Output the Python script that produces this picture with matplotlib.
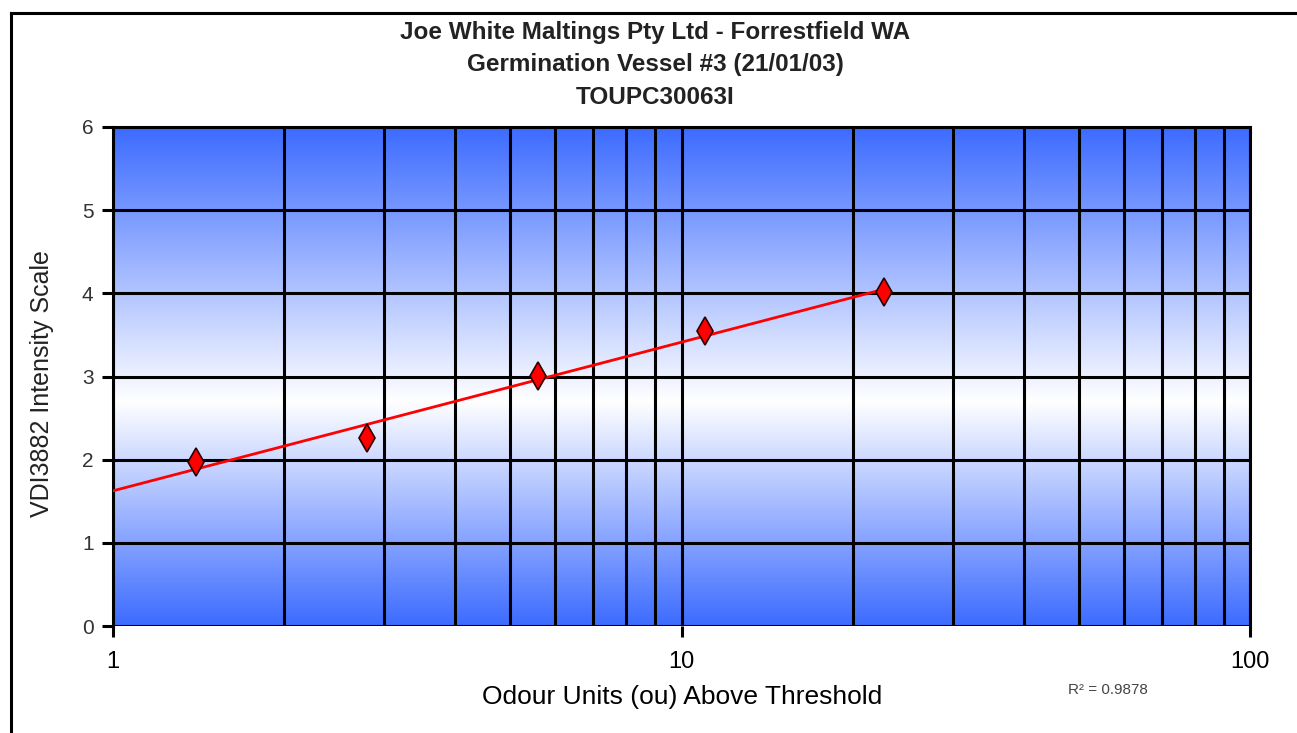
import matplotlib
matplotlib.use("Agg")
import matplotlib.pyplot as plt
import numpy as np
from matplotlib.lines import Line2D
from matplotlib.ticker import LogLocator, NullFormatter

# odour panel results: dilution level vs. perceived intensity
odour_units = [1.4, 2.8, 5.6, 11.0, 22.7]
intensity = [1.97, 2.26, 3.01, 3.55, 4.02]
r_squared = 0.9878

x_ticks = [1, 10, 100]
y_ticks = [0, 1, 2, 3, 4, 5, 6]
title_lines = ["Joe White Maltings Pty Ltd - Forrestfield WA",
               "Germination Vessel #3 (21/01/03)",
               "TOUPC30063I"]

plt.rcParams['font.family'] = ['Liberation Sans', 'DejaVu Sans']

W, H = 1297, 733
fig = plt.figure(figsize=(W / 100, H / 100), dpi=100)
pos = [113 / W, 107 / H, 1137 / W, 499 / H]

# blue-white-blue background
bg = fig.add_axes(pos, zorder=0)
t = np.linspace(0, 1, 500)[:, None]
center = 0.45
f = np.where(t < center, (center - t) / center, (t - center) / (1 - center))
blue = np.array([60, 107, 255]) / 255
img = 1 - f[..., None] * (1 - blue)
bg.imshow(img, extent=[0, 1, 0, 1], aspect='auto', origin='lower')
bg.axis('off')

ax = fig.add_axes(pos, zorder=1)
ax.set_facecolor('none')
ax.set_xscale('log')
ax.set_xlim(1, 100)
ax.set_ylim(0, 6)

ax.set_xticks(x_ticks, labels=[str(v) for v in x_ticks])
ax.xaxis.set_minor_locator(LogLocator(subs=range(2, 10)))
ax.xaxis.set_minor_formatter(NullFormatter())
ax.set_yticks(y_ticks)
ax.grid(which='both', color='black', lw=2.2)
ax.tick_params(which='major', length=8, width=2.2, direction='out')
ax.tick_params(which='minor', length=0)
ax.tick_params(axis='x', labelsize=17, pad=10)
ax.tick_params(axis='y', labelsize=15, pad=6, labelcolor='#333333')
for side in ['left', 'top', 'right']:
    ax.spines[side].set_linewidth(2.2)
ax.spines['bottom'].set_visible(False)

# logarithmic trendline
lx = np.log10(odour_units)
coef = np.polyfit(lx, intensity, 1)
xs = np.logspace(0, np.log10(max(odour_units)), 100)
ax.plot(xs, np.polyval(coef, np.log10(xs)), color='red', lw=2, zorder=3)
ax.plot(odour_units, intensity, linestyle='none', marker='d', markersize=14,
        mfc='red', mec='#2a0000', mew=1.2, zorder=4, clip_on=False)

for i, line in enumerate(title_lines):
    fig.text(655 / W, 1 - (33 + 32 * i) / H, line, ha='center', va='center',
             fontsize=17.5, fontweight='bold', color='#222222')

fig.text(682 / W, 1 - 697 / H, "Odour Units (ou) Above Threshold",
         ha='center', va='center', fontsize=19)
fig.text(42 / W, 1 - 384 / H, "VDI3882 Intensity Scale", rotation=90,
         ha='center', va='center', fontsize=18, color='#222222')
fig.text(1068 / W, 1 - 690 / H, "R\u00b2 = %.4f" % r_squared,
         ha='left', va='center', fontsize=11, color='#444444')

# outer chart border
fig.add_artist(Line2D([11 / W, 1], [1 - 13 / H] * 2, transform=fig.transFigure,
                      color='black', lw=2.2))
fig.add_artist(Line2D([11 / W] * 2, [1 - 13 / H, 0], transform=fig.transFigure,
                      color='black', lw=2.2))

fig.savefig('out.png', dpi=100)
